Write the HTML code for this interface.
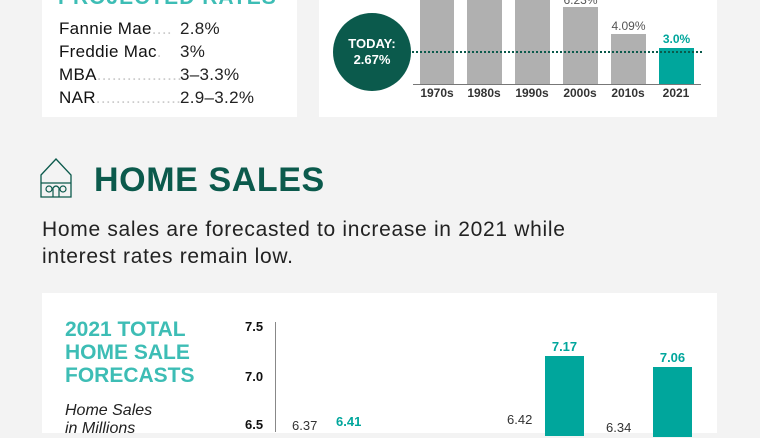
<!DOCTYPE html>
<html><head><style>
body{margin:0;width:760px;height:428px;overflow:hidden;background:#f3f3f3;font-family:"Liberation Sans",sans-serif;position:relative}
.a{position:absolute;white-space:nowrap}
.card{position:absolute;background:#fff}
.row{position:absolute;left:59px;font-size:17px;color:#111;width:200px;letter-spacing:0.3px}
.val{position:absolute;left:180px;font-size:17px;color:#222;letter-spacing:0.3px}
.bar{position:absolute;background:#b0b0b0}
.yr{position:absolute;top:86px;font-size:12px;font-weight:bold;color:#333;width:40px;text-align:center}
</style></head><body>
<div class="card" style="left:42px;top:0;width:255px;height:117px"></div>
<div class="card" style="left:319px;top:0;width:398px;height:117px"></div>
<div class="a" style="left:58px;top:-14px;font-size:21px;font-weight:bold;color:#3dbdb5;letter-spacing:1px">PROJECTED RATES</div>
<div class="row" style="top:19px">Fannie Mae<span style="color:#ccc">....</span></div><div class="val" style="top:19px">2.8%</div>
<div class="row" style="top:42px">Freddie Mac<span style="color:#ccc">.</span></div><div class="val" style="top:42px">3%</div>
<div class="row" style="top:65px">MBA<span style="color:#ccc">.................</span></div><div class="val" style="top:65px">3–3.3%</div>
<div class="row" style="top:88px">NAR<span style="color:#ccc">.................</span></div><div class="val" style="top:88px">2.9–3.2%</div>

<div class="a" style="left:333px;top:13px;width:78px;height:78px;border-radius:50%;background:#0b5a4c;color:#fff;font-weight:bold;font-size:13px;text-align:center;line-height:16px;padding-top:23px;box-sizing:border-box">TODAY:<br>2.67%</div>
<div class="bar" style="left:420px;top:0;width:34px;height:84px"></div>
<div class="bar" style="left:467px;top:0;width:35px;height:84px"></div>
<div class="bar" style="left:515px;top:0;width:35px;height:84px"></div>
<div class="bar" style="left:563px;top:7px;width:35px;height:77px"></div>
<div class="bar" style="left:611px;top:34px;width:35px;height:50px"></div>
<div class="bar" style="left:659px;top:48px;width:35px;height:36px;background:#00a69c"></div>
<div class="a" style="left:560px;top:-7px;font-size:12px;color:#555;width:41px;text-align:center">6.23%</div>
<div class="a" style="left:608px;top:19px;font-size:12px;color:#555;width:41px;text-align:center">4.09%</div>
<div class="a" style="left:656px;top:32px;font-size:12px;color:#00a69c;font-weight:bold;width:41px;text-align:center">3.0%</div>
<div class="a" style="left:412px;top:51px;width:290px;border-top:2px dotted #0b5a4c"></div>
<div class="a" style="left:413px;top:84px;width:288px;height:1px;background:#777"></div>
<div class="yr" style="left:417px">1970s</div><div class="yr" style="left:464px">1980s</div><div class="yr" style="left:512px">1990s</div><div class="yr" style="left:560px">2000s</div><div class="yr" style="left:608px">2010s</div><div class="yr" style="left:656px">2021</div>

<svg class="a" style="left:40px;top:157px" width="32" height="42" viewBox="0 0 32 42"><path d="M1 18 L16 2 L31 18 V40 H1 Z M1 26 H31" fill="none" stroke="#0b5a4c" stroke-width="1.3"/><circle cx="9" cy="32" r="3" fill="none" stroke="#0b5a4c" stroke-width="1.2"/><circle cx="23" cy="32" r="3" fill="none" stroke="#0b5a4c" stroke-width="1.2"/><path d="M13 40 V31 Q16 27 19 31 V40" fill="none" stroke="#0b5a4c" stroke-width="1.2"/></svg>
<div class="a" style="left:94px;top:161px;font-size:34px;font-weight:bold;color:#0b5a4c;letter-spacing:0.6px">HOME SALES</div>
<div class="a" style="left:42px;top:216px;font-size:21px;color:#222;line-height:27px;letter-spacing:0.7px">Home sales are forecasted to increase in 2021 while<br>interest rates remain low.</div>

<div class="card" style="left:42px;top:293px;width:675px;height:140px"></div>
<div class="a" style="left:65px;top:318px;font-size:21px;font-weight:bold;color:#3dbdb5;line-height:23px">2021 TOTAL<br>HOME SALE<br>FORECASTS</div>
<div class="a" style="left:65px;top:402px;font-size:16px;font-style:italic;color:#222">Home Sales<br>in Millions</div>
<div class="a" style="left:275px;top:322px;width:1px;height:110px;background:#888"></div>
<div class="a" style="left:245px;top:319px;font-size:13px;font-weight:bold;color:#111">7.5</div>
<div class="a" style="left:245px;top:369px;font-size:13px;font-weight:bold;color:#111">7.0</div>
<div class="a" style="left:245px;top:417px;font-size:13px;font-weight:bold;color:#111">6.5</div>
<div class="a" style="left:545px;top:356px;width:39px;height:80px;background:#00a69c"></div>
<div class="a" style="left:653px;top:367px;width:39px;height:70px;background:#00a69c"></div>
<div class="a" style="left:545px;top:339px;width:39px;text-align:center;font-size:13px;font-weight:bold;color:#00a69c">7.17</div>
<div class="a" style="left:653px;top:350px;width:39px;text-align:center;font-size:13px;font-weight:bold;color:#00a69c">7.06</div>
<div class="a" style="left:292px;top:418px;font-size:13px;color:#333">6.37</div>
<div class="a" style="left:336px;top:414px;font-size:13px;font-weight:bold;color:#00a69c">6.41</div>
<div class="a" style="left:507px;top:412px;font-size:13px;color:#333">6.42</div>
<div class="a" style="left:606px;top:420px;font-size:13px;color:#333">6.34</div>
</body></html>
